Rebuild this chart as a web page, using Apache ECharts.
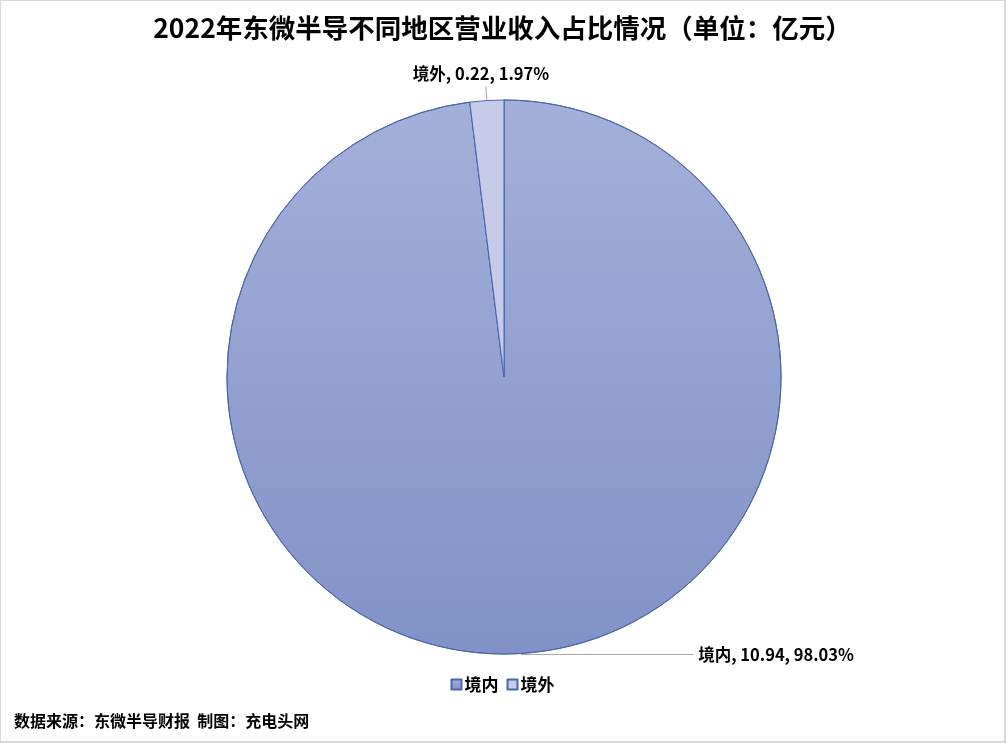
<!DOCTYPE html>
<html>
<head>
<meta charset="utf-8">
<script src="https://cdn.jsdelivr.net/npm/echarts@6/dist/echarts.min.js"></script>
<style>
  html, body { margin: 0; padding: 0; background: #fff; }
  #main { width: 1006px; height: 743px; box-sizing: border-box; border: 1px solid #d9d9d9; border-right-width: 2px; border-bottom-width: 2px; }
</style>
</head>
<body>
<div id="main"></div>
<script>
// 数据
var regions = ['境内', '境外'];
var revenue = [10.94, 0.22];       // 亿元
var percents = ['98.03%', '1.97%'];

(function () {
    var myChart = echarts.init(document.querySelector('#main'))
    var cjk = '"Noto Sans CJK SC", "Liberation Sans", sans-serif'

    // 境内用上浅下深的渐变
    var fills = [
        new echarts.graphic.LinearGradient(0, 0, 0, 1, [
            { offset: 0, color: '#a4b0d9' },
            { offset: 1, color: '#8192c7' }
        ]),
        '#c5cbe9'
    ]
    // 引线长度
    var lines = [
        { length: 1, length2: 172 },
        { length: 14, length2: 0 }
    ]

    var pieData = regions.map(function (name, i) {
        return { name: name, value: revenue[i], itemStyle: { color: fills[i] }, labelLine: lines[i] }
    })

    var option = {
        backgroundColor: '#fff',
        title: {
            text: '2022年东微半导不同地区营业收入占比情况（单位：亿元）',
            left: 'center',
            top: 9,
            textStyle: { fontFamily: cjk, fontSize: 26.5, fontWeight: 'bold', color: '#000' }
        },
        legend: {
            bottom: 43,
            left: 'center',
            itemWidth: 10,
            itemHeight: 10,
            itemGap: 8,
            icon: 'rect',
            data: regions,
            textStyle: { fontFamily: cjk, fontSize: 17, fontWeight: 'bold', color: '#000', padding: [0, 0, 0, -2] }
        },
        graphic: [{
            type: 'text',
            left: 13,
            top: 712,
            style: {
                text: '数据来源：东微半导财报  制图：充电头网',
                font: 'bold 16px "Noto Sans CJK SC", sans-serif',
                fill: '#000'
            }
        }],
        series: [{
            type: 'pie',
            center: [503, 376],
            radius: 277,
            startAngle: 90,
            clockwise: true,
            avoidLabelOverlap: false,
            itemStyle: { borderColor: '#4a66b0', borderWidth: 1 },
            emphasis: { disabled: true },
            label: {
                show: true,
                position: 'outside',
                fontFamily: cjk,
                fontSize: 16.5,
                fontWeight: 'bold',
                color: '#000',
                formatter: function (p) {
                    return p.name + ', ' + revenue[p.dataIndex] + ', ' + percents[p.dataIndex]
                }
            },
            labelLine: {
                show: true,
                lineStyle: { color: '#a6a6a6', width: 1 }
            },
            labelLayout: function (params) {
                if (params.dataIndex === 1) {
                    // 境外标签放在引线正上方
                    return { dx: params.labelRect.width / 2, dy: -13 }
                }
                return {}
            },
            data: pieData
        }]
    }

    myChart.setOption(option)
    window.addEventListener('resize', function () {
        myChart.resize()
    })
})()
</script>
</body>
</html>
